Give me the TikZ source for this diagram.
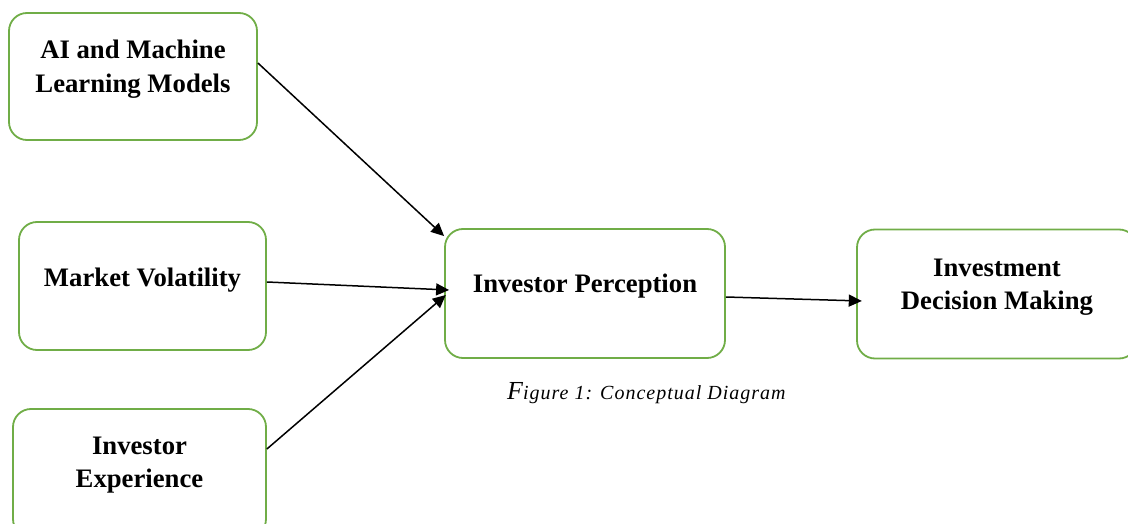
\documentclass[tikz,border=0pt]{standalone}
\usepackage{fontspec}
\setmainfont{Liberation Serif}
\newfontfamily\capfont[LetterSpace=5]{Liberation Serif}
\usetikzlibrary{arrows.meta}

\definecolor{boxgreen}{RGB}{112,173,71}

\tikzset{
    conbox/.style={draw=boxgreen, line width=1.8pt, rounded corners=18pt, inner sep=0pt},
    contxt/.style={font=\bfseries\fontsize{26.7}{33.4}\selectfont, align=center, inner sep=0pt},
    conarrow/.style={line width=1.5pt, -{Triangle[length=13pt,width=12pt]}}
}

\begin{document}
\begin{tikzpicture}[x=1pt, y=-1pt]
        \useasboundingbox (0,0) rectangle (1128,524);
        \clip (0,0) rectangle (1128,524);

        % boxes
        \node[conbox, minimum width=248pt, minimum height=127pt] (ai) at (133,76.5) {};
        \node[conbox, minimum width=247pt, minimum height=128pt] (mv) at (142.5,286) {};
        \node[conbox, minimum width=253pt, minimum height=128pt] (ie) at (139.5,473) {};
        \node[conbox, minimum width=280pt, minimum height=129pt] (ip) at (585,293.5) {};
        \node[conbox, minimum width=280pt, minimum height=129pt] (idm) at (997,294) {};

        % texts
        \node[contxt] (aitext) at (133,69) {AI and Machine\\Learning Models};
        \node[contxt, anchor=base] (mvtext) at (142.5,286) {Market Volatility};
        \node[contxt] (ietext) at (139.5,465) {Investor\\Experience};
        \node[contxt, anchor=base] (iptext) at (585,292) {Investor Perception};
        \node[contxt] (idmtext) at (997,287.5) {Investment\\Decision Making};

        % arrows
        \draw[conarrow] ([yshift=13.5pt]ai.east) -- ([yshift=-8pt]ip.north west);
        \draw[conarrow] ([yshift=4pt]mv.east) -- ([xshift=5pt,yshift=3.5pt]ip.west);
        \draw[conarrow] ([yshift=24pt]ie.east) -- ([xshift=1.7pt,yshift=-1.5pt]ip.west);
        \draw[conarrow] ([yshift=-3.5pt]ip.east) -- ([xshift=5.7pt,yshift=-7pt]idm.west);

        % caption
        \node[anchor=base west, inner sep=0pt] (caption) at (507,399)
            {\capfont\itshape{\fontsize{26}{28}\selectfont F}{\fontsize{20}{22}\selectfont igure 1: Conceptual Diagram}};
    \end{tikzpicture}
\end{document}
